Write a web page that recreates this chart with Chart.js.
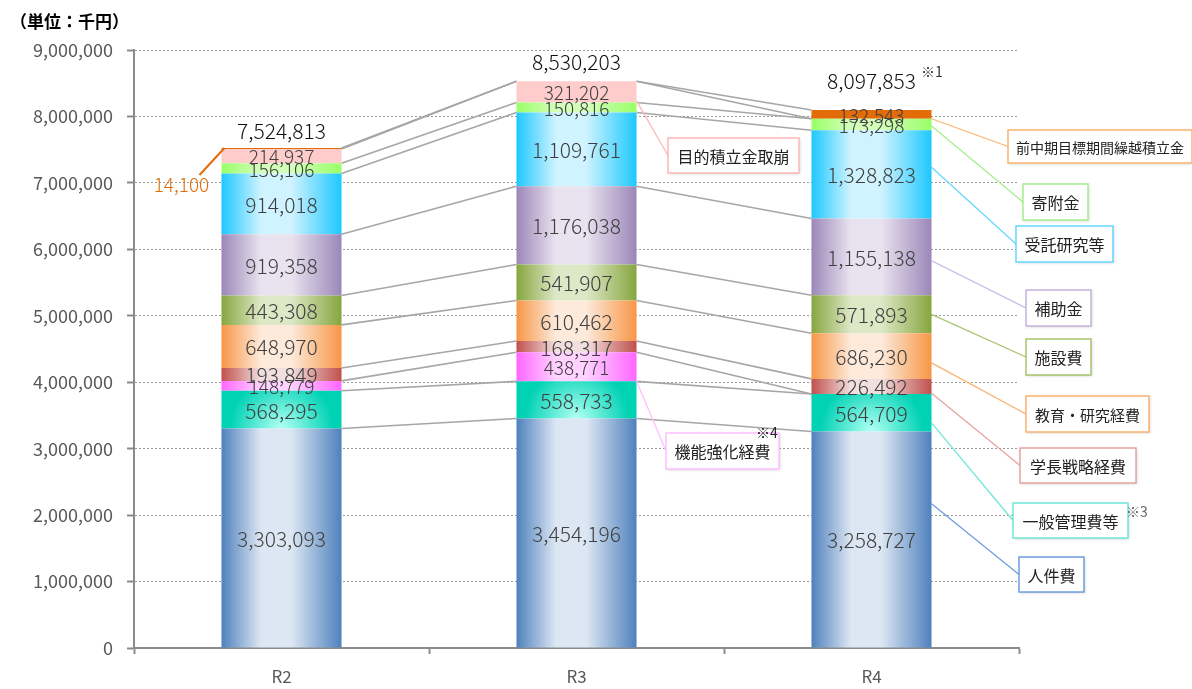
<!DOCTYPE html>
<html>
<head>
<meta charset="utf-8">
<script src="https://cdn.jsdelivr.net/npm/chart.js@4.4.0/dist/chart.umd.min.js"></script>
<style>
html, body { margin: 0; padding: 0; background: #fff; }
#wrap { width: 1192px; height: 689px; position: relative; }
</style>
</head>
<body>
<div id="wrap"><canvas id="chart" width="1192" height="689"></canvas></div>
<script>
// data (単位:千円)
var categories = ["R2", "R3", "R4"];
var seriesNames = ["人件費", "一般管理費等", "機能強化経費", "学長戦略経費", "教育・研究経費", "施設費", "補助金", "受託研究等", "寄附金", "目的積立金取崩", "前中期目標期間繰越積立金"];
var jinkenhi = [3303093, 3454196, 3258727];
var ippanKanri = [568295, 558733, 564709];
var kinoKyoka = [148779, 438771, 0];
var gakuchoSenryaku = [193849, 168317, 226492];
var kyoikuKenkyu = [648970, 610462, 686230];
var shisetsu = [443308, 541907, 571893];
var hojokin = [919358, 1176038, 1155138];
var jutakuKenkyu = [914018, 1109761, 1328823];
var kifukin = [156106, 150816, 173298];
var mokutekiTorikuzushi = [214937, 321202, 0];
var zenChukiKurikoshi = [14100, 0, 132543];
var totals = [7524813, 8530203, 8097853];
var yMax = 9000000;
var yStep = 1000000;

var seriesData = [jinkenhi, ippanKanri, kinoKyoka, gakuchoSenryaku, kyoikuKenkyu, shisetsu, hojokin, jutakuKenkyu, kifukin, mokutekiTorikuzushi, zenChukiKurikoshi];

// look
var FONT = '"Noto Sans CJK JP", "Noto Sans", sans-serif';
var BAR_PCT = 0.407;
var darkCols = ["#4f81bd", "#00d2b4", "#ff66ff", "#c0504d", "#f79646", "#86a63f", "#9b87b8", "#1ec8ff", "#99ff66", "#ffcccc", "#e36c09"];
var lightCols = ["#dde7f3", "#abfff2", "#ffd2ff", "#f1dfdf", "#fdeadb", "#dde8c6", "#e9e3ef", "#cff3ff", "#d3ffbb", "#ffcccc", "#e36c09"];
var smallLabel = [false, false, true, false, false, false, false, false, true, true, true];

// callout boxes (x, y, w, h) and where the leader leaves the segment (0 bottom .. 1 top)
var callouts = [
    { s: 10, bar: 2, frac: 0, box: [1008, 130, 184, 33], color: "#f9b46e", size: 14 },
    { s: 8, bar: 2, frac: 0.37, box: [1023, 184, 65, 36], color: "#a4ee8c", size: 16 },
    { s: 7, bar: 2, frac: 0.58, box: [1016, 226, 97, 36], color: "#66d6ff", size: 16 },
    { s: 6, bar: 2, frac: 0.45, box: [1026, 290, 65, 36], color: "#c3b4dc", size: 16 },
    { s: 5, bar: 2, frac: 0.5, box: [1026, 339, 65, 36], color: "#a9c46e", size: 16 },
    { s: 4, bar: 2, frac: 0.35, box: [1026, 396, 123, 36], color: "#fab26f", size: 15 },
    { s: 3, bar: 2, frac: 0.05, box: [1020, 448, 116, 35], color: "#e3a4a2", size: 16 },
    { s: 1, bar: 2, frac: 0.23, box: [1013, 503, 115, 35], color: "#6fe6d8", size: 16 },
    { s: 0, bar: 2, frac: 0.665, box: [1019, 557, 65, 35], color: "#6f9de0", size: 16 },
    { s: 9, bar: 1, frac: 0.08, box: [668, 138, 131, 35], color: "#ffb8b8", size: 16 },
    { s: 2, bar: 1, frac: 0, box: [666, 433, 113, 36], color: "#ffbfff", size: 16 },
];

function fmt(v) {
    return Number(v).toLocaleString("en-US");
}

function stackBase(s, i) {
    var sum = 0;
    for (var k = 0; k < s; k++) sum += seriesData[k][i];
    return sum;
}

function barFill(s) {
    return function (c) {
        var chart = c.chart;
        if (!chart.chartArea || c.type !== "data" || !chart.scales.x) return darkCols[s];
        if (s >= 9) return darkCols[s];
        var xs = chart.scales.x, ys = chart.scales.y;
        var cx = xs.getPixelForValue(c.dataIndex);
        var w = (xs.width / categories.length) * BAR_PCT;
        var g;
        if (s === 1) {
            var yb = ys.getPixelForValue(stackBase(s, c.dataIndex));
            g = chart.ctx.createRadialGradient(cx, yb, 2, cx, yb, 52);
            g.addColorStop(0, lightCols[s]);
            g.addColorStop(1, darkCols[s]);
            return g;
        }
        g = chart.ctx.createLinearGradient(cx - w / 2, 0, cx + w / 2, 0);
        g.addColorStop(0, darkCols[s]);
        g.addColorStop(0.33, lightCols[s]);
        g.addColorStop(0.58, lightCols[s]);
        g.addColorStop(1, darkCols[s]);
        return g;
    };
}

var datasets = seriesNames.map(function (name, s) {
    return {
        label: name,
        data: seriesData[s],
        backgroundColor: barFill(s),
        borderWidth: 0,
        categoryPercentage: 1,
        barPercentage: BAR_PCT,
    };
});

var seriesLinesPlugin = {
    id: "seriesLines",
    beforeDatasetsDraw(chart) {
        var ctx = chart.ctx;
        ctx.save();
        ctx.strokeStyle = "#a6a6a6";
        ctx.lineWidth = 1.6;
        for (var s = 0; s < seriesData.length; s++) {
            var els = chart.getDatasetMeta(s).data;
            for (var i = 0; i < els.length - 1; i++) {
                var a = els[i], b = els[i + 1];
                ctx.beginPath();
                ctx.moveTo(a.x + a.width / 2, a.y);
                ctx.lineTo(b.x - b.width / 2, b.y);
                ctx.stroke();
            }
        }
        ctx.restore();
    },
};

var labelsPlugin = {
    id: "segLabels",
    afterDatasetsDraw(chart) {
        var ctx = chart.ctx;
        ctx.save();
        ctx.textAlign = "center";
        ctx.textBaseline = "middle";
        for (var s = 0; s < seriesData.length; s++) {
            var els = chart.getDatasetMeta(s).data;
            for (var i = 0; i < els.length; i++) {
                var v = seriesData[s][i];
                if (!v) continue;
                var el = els[i];
                if (s === 10 && i === 0) {
                    // small top slice labelled outside with a leader
                    var left = el.x - el.width / 2;
                    ctx.strokeStyle = "#e36c09";
                    ctx.lineWidth = 2;
                    ctx.beginPath();
                    ctx.moveTo(left + 3, el.y);
                    ctx.lineTo(left - 22, el.y + 27);
                    ctx.stroke();
                    ctx.fillStyle = "#e36c09";
                    ctx.font = "300 19px " + FONT;
                    ctx.fillText(fmt(v), left - 40, el.y + 37);
                    continue;
                }
                ctx.fillStyle = "#404040";
                ctx.font = (smallLabel[s] ? "300 19px " : "300 21px ") + FONT;
                ctx.fillText(fmt(v), el.x, (el.y + el.base) / 2 + 1);
            }
        }
        // totals above each bar
        var ys = chart.scales.y, xs = chart.scales.x;
        var lift = [17, 19, 29];
        ctx.fillStyle = "#111";
        ctx.font = "300 21px " + FONT;
        for (var j = 0; j < totals.length; j++) {
            ctx.fillText(fmt(totals[j]), xs.getPixelForValue(j), ys.getPixelForValue(totals[j]) - lift[j]);
        }
        ctx.restore();
    },
};

var calloutPlugin = {
    id: "callouts",
    afterDraw(chart) {
        var ctx = chart.ctx;
        ctx.save();
        callouts.forEach(function (c) {
            var el = chart.getDatasetMeta(c.s).data[c.bar];
            var x0 = el.x + el.width / 2;
            var y0 = el.base + (el.y - el.base) * c.frac;
            var bx = c.box[0], by = c.box[1], bw = c.box[2], bh = c.box[3];
            ctx.strokeStyle = c.color;
            ctx.lineWidth = 1.3;
            ctx.beginPath();
            ctx.moveTo(x0, y0);
            ctx.lineTo(bx, by + bh / 2);
            ctx.stroke();
            ctx.shadowColor = "rgba(0,0,0,0.18)";
            ctx.shadowBlur = 3;
            ctx.shadowOffsetX = 1;
            ctx.shadowOffsetY = 1;
            ctx.fillStyle = "#fff";
            ctx.fillRect(bx, by, bw, bh);
            ctx.shadowColor = "transparent";
            ctx.lineWidth = 1.5;
            ctx.strokeRect(bx, by, bw, bh);
            ctx.fillStyle = "#222";
            ctx.font = c.size + "px " + FONT;
            ctx.textAlign = "center";
            ctx.textBaseline = "middle";
            ctx.fillText(seriesNames[c.s], bx + bw / 2, by + bh / 2 + 1);
        });
        // unit caption and notes
        ctx.textAlign = "left";
        ctx.textBaseline = "middle";
        ctx.fillStyle = "#000";
        ctx.font = "bold 17px " + FONT;
        ctx.fillText("（単位：千円）", 10, 22);
        ctx.font = "14px " + FONT;
        ctx.fillStyle = "#333";
        ctx.fillText("※1", 921, 72);
        ctx.fillStyle = "#666";
        ctx.fillText("※3", 1126, 512);
        ctx.fillStyle = "#222";
        ctx.fillText("※4", 756, 433);
        ctx.restore();
    },
};

new Chart(document.getElementById("chart"), {
    type: "bar",
    data: { labels: categories, datasets: datasets },
    options: {
        responsive: false,
        animation: false,
        devicePixelRatio: 1,
        layout: { padding: { top: 50, right: 173, left: 0, bottom: 0 } },
        plugins: { legend: { display: false }, tooltip: { enabled: false }, title: { display: false } },
        scales: {
            x: {
                stacked: true,
                grid: { drawOnChartArea: false, offset: true, tickLength: 6, tickColor: "#8c8c8c", tickWidth: 2 },
                border: { color: "#8c8c8c", width: 2 },
                ticks: { color: "#595959", font: { family: FONT, size: 17 }, padding: 12 },
                afterFit: function (scale) { scale.height = 41; },
            },
            y: {
                stacked: true,
                min: 0,
                max: yMax,
                grid: { color: "#9a9a9a", lineWidth: 1, tickLength: 7, tickColor: "#8c8c8c", tickWidth: 2, tickBorderDash: [] },
                border: { color: "#8c8c8c", width: 2, dash: [2, 2] },
                ticks: {
                    stepSize: yStep,
                    color: "#595959",
                    padding: 14,
                    font: { family: FONT, size: 18 },
                    callback: function (v) { return fmt(v); },
                },
                afterFit: function (scale) { scale.width = 134; },
            },
        },
    },
    plugins: [seriesLinesPlugin, labelsPlugin, calloutPlugin],
});
</script>
</body>
</html>
